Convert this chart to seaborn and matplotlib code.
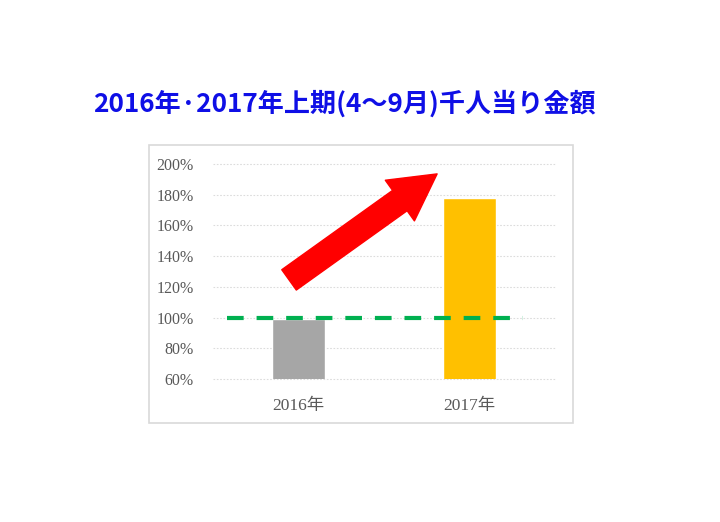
import seaborn as sns
import matplotlib.pyplot as plt
import matplotlib.patches as patches
import pandas as pd

years = ["2016年", "2017年"]
ratios = [99, 178]
bar_colors = ["#a6a6a6", "#ffc000"]
baseline = 100
yticks = [60, 80, 100, 120, 140, 160, 180, 200]
title = "2016年·2017年上期(4～9月)千人当り金額"

sns.set_style("white")
plt.rcParams['font.family'] = ['Noto Sans CJK JP', 'DejaVu Sans']

df = pd.DataFrame({"year": years, "ratio": ratios})

fig = plt.figure(figsize=(7.2, 5.22), dpi=100)
ax = fig.add_axes([0.296, 0.274, 0.475, 0.412])

# outer frame around the chart
fig.patches.append(patches.Rectangle((149 / 720, 1 - 423 / 522), 424 / 720, 278 / 522,
                                     transform=fig.transFigure, fill=False,
                                     edgecolor="#d9d9d9", linewidth=1.2, zorder=0))

sns.barplot(data=df, x="year", y="ratio", hue="year", palette=bar_colors, saturation=1,
            width=0.31, legend=False, ax=ax, zorder=2)

ax.set_ylim(60, 200)
ax.set_xlim(-0.5, 1.5)
ax.set_yticks(yticks)
ax.set_yticklabels([f"{v}%" for v in yticks], family=['Liberation Serif', 'Noto Sans CJK JP'],
                   fontsize=11.5, color="#595959")
ax.set_xticks(range(len(years)))
ax.set_xticklabels(years, family=['Liberation Serif', 'Noto Sans CJK JP'], fontsize=12.5, color="#595959")
ax.tick_params(axis="both", length=0, pad=14)
ax.tick_params(axis="x", pad=14)
ax.set_xlabel("")
ax.set_ylabel("")
for s in ax.spines.values():
    s.set_visible(False)
for v in yticks:
    ax.axhline(v, color="#dcdcdc", linewidth=0.8, linestyle=(0, (1.5, 1.5)), zorder=1, clip_on=False)

ax.plot([-0.42, 1.31], [baseline, baseline], color="#00b050", linewidth=3,
        dashes=(4, 3.1), zorder=3)

ax.annotate("", xy=(0.81, 193.5), xytext=(-0.056, 124.5),
            arrowprops=dict(arrowstyle="simple,head_length=3.3,head_width=3.6,tail_width=1.8",
                            mutation_scale=10, color="#ff0000", shrinkA=0, shrinkB=0),
            zorder=4)

fig.text(344 / 720, 1 - 104 / 522, title, ha="center", va="center", color="#0f0fe6",
         fontsize=18.8, fontweight="bold")

fig.savefig("out.png", dpi=100)
